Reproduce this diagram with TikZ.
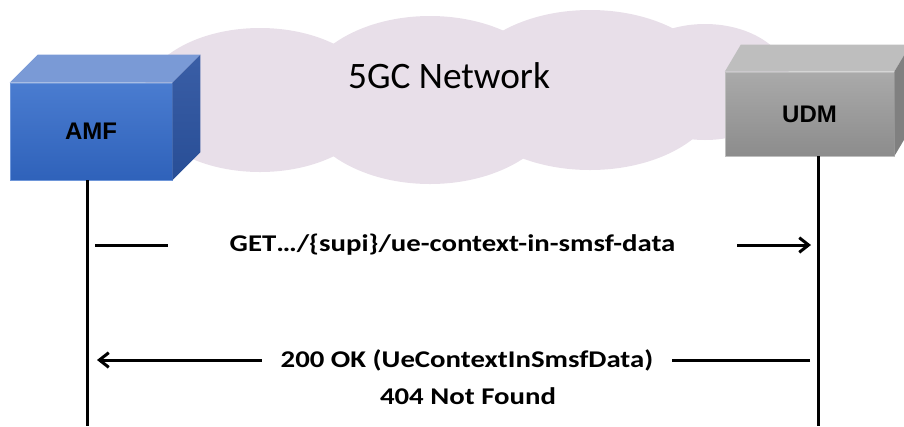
\documentclass[tikz,border=0pt]{standalone}
\usepackage{fontspec}
\usepackage{xcolor}
\usetikzlibrary{arrows.meta}
\newfontfamily\netfont{Carlito}
\newfontfamily\msgfont[FakeStretch=1.2]{Carlito}
\newfontfamily\boxfont{Liberation Sans}
\definecolor{cloudc}{RGB}{232,223,233}
\definecolor{amftopc}{RGB}{122,154,214}
\definecolor{amfhic}{RGB}{74,124,208}
\definecolor{amfloc}{RGB}{47,98,186}
\definecolor{amfsidec}{RGB}{58,94,166}
\definecolor{amfsidedc}{RGB}{40,78,150}
\definecolor{udmtopc}{RGB}{190,190,190}
\definecolor{udmhic}{RGB}{170,170,170}
\definecolor{udmloc}{RGB}{140,140,140}
\definecolor{udmsidec}{RGB}{128,128,128}

\begin{document}
\begin{tikzpicture}[x=0.75pt,y=-0.75pt,
    nf/.style={inner sep=0pt, font=\boxfont\bfseries\fontsize{18pt}{20pt}\selectfont},
    life/.style={line width=2.25pt},
    msg/.style={line width=2.25pt},
    lbl/.style={inner sep=0pt, font=\msgfont\bfseries\fontsize{18pt}{20pt}\selectfont}]
    \useasboundingbox (0,0) rectangle (904,426);

    % 云: 几个椭圆叠在一起
    \fill[cloudc] (260,100) ellipse [x radius=118, y radius=72];
    \fill[cloudc] (430,100) ellipse [x radius=130, y radius=84];
    \fill[cloudc] (590,90) ellipse [x radius=130, y radius=80];
    \fill[cloudc] (705,82) ellipse [x radius=85, y radius=58];
    \node[font=\netfont\fontsize{28pt}{30pt}\selectfont] (NET) at (449,76) {5GC Network};

    % AMF 方块 (正面 + 顶面 + 侧面)
    \node[nf, minimum width=121.5pt, minimum height=72.75pt,
          top color=amfhic, bottom color=amfloc, draw=amfhic!80!white] (AMF) at (91,131.5) {AMF};
    \fill[amftopc] (AMF.north west) -- ([shift={(28,-28)}]AMF.north west)
        -- ([shift={(28,-28)}]AMF.north east) -- (AMF.north east) -- cycle;
    \shade[top color=amfsidec, bottom color=amfsidedc] (AMF.north east) -- ([shift={(28,-28)}]AMF.north east)
        -- ([shift={(28,-28)}]AMF.south east) -- (AMF.south east) -- cycle;

    % UDM 方块
    \node[nf, minimum width=126.75pt, minimum height=63pt,
          top color=udmhic, bottom color=udmloc, draw=udmtopc] (UDM) at (809.5,114) {UDM};
    \fill[udmtopc] (UDM.north west) -- ([shift={(16,-27)}]UDM.north west)
        -- ([shift={(16,-27)}]UDM.north east) -- (UDM.north east) -- cycle;
    \fill[udmsidec] (UDM.north east) -- ([shift={(16,-27)}]UDM.north east)
        -- ([shift={(16,-27)}]UDM.south east) -- (UDM.south east) -- cycle;

    % 生命线
    \coordinate (AMFend) at (87,426);
    \coordinate (UDMend) at (818,426);
    \draw[life] (AMFend |- AMF.south) -- (AMFend);
    \draw[life] (UDMend |- UDM.south) -- (UDMend);

    % 请求 AMF -> UDM
    \node[lbl, minimum width=426.75pt] (GET) at (452.5,245) {GET…/\{supi\}/ue-context-in-smsf-data};
    \coordinate (g1) at (95,245);
    \coordinate (g2) at (811,245);
    \draw[msg] (g1) -- (GET.west);
    \draw[msg, -{Straight Barb[length=7pt, width=11pt]}] (GET.east) -- (g2);

    % 响应 UDM -> AMF
    \node[lbl, minimum width=307.5pt] (OK) at (467,360) {200 OK (UeContextInSmsfData)};
    \node[lbl] (NF) at (468,396) {404 Not Found};
    \coordinate (r1) at (97,360);
    \coordinate (r2) at (810,360);
    \draw[msg] (r2) -- (OK.east);
    \draw[msg, -{Straight Barb[length=7pt, width=11pt]}] (OK.west) -- (r1);
\end{tikzpicture}
\end{document}
